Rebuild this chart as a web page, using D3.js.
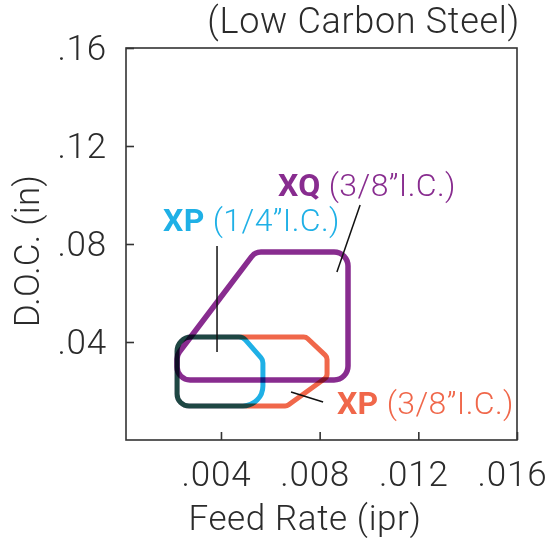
<!DOCTYPE html>
<html>
<head>
<meta charset="utf-8">
<script src="https://cdn.jsdelivr.net/npm/d3@7"></script>
<style>
  body { margin: 0; background: #fff; }
  text { font-family: Roboto, "Liberation Sans", Arial, sans-serif; font-weight: 300; fill: #2b2b2b; }
</style>
</head>
<body>
<script>
// axes
var xTicks = [0.004, 0.008, 0.012, 0.016];
var xTickLabels = [".004", ".008", ".012", ".016"];
var yTicks = [0.04, 0.08, 0.12, 0.16];
var yTickLabels = [".04", ".08", ".12", ".16"];

// operating regions: feed rate (ipr), depth of cut (in), corner radius (px)
var xqFeed = [0.00538, 0.00915, 0.00915, 0.00222, 0.00222];
var xqDoc = [0.0767, 0.0767, 0.0245, 0.0245, 0.0347];
var xqRound = [12, 14, 14, 13, 12];

var xp14Feed = [0.00222, 0.00489, 0.0057, 0.0057, 0.00222];
var xp14Doc = [0.042, 0.042, 0.0327, 0.0139, 0.0139];
var xp14Round = [14, 9, 8, 20, 12];

var xp38Feed = [0.00222, 0.00745, 0.0083, 0.0083, 0.00668, 0.00222];
var xp38Doc = [0.042, 0.042, 0.0339, 0.0257, 0.0139, 0.0139];
var xp38Round = [14, 6, 6, 6, 6, 12];

// labels and leader lines
var labelNames = ["XQ", "XP", "XP"];
var labelSizes = ["(3/8\u201dI.C.)", "(1/4\u201dI.C.)", "(3/8\u201dI.C.)"];
var labelFeed = [0.00631, 0.00165, 0.0087];
var labelDoc = [0.0996, 0.0853, 0.0106];
var leaderFeed = [[0.00964, 0.0087], [0.00384, 0.00384], [0.00684, 0.00814]];
var leaderDoc = [[0.0959, 0.0686], [0.0792, 0.0359], [0.0196, 0.0155]];
var colors = ["#882c8f", "#1fb0e6", "#f0674a"];

var width = 550, height = 544;
var margin = { top: 48, right: 33, bottom: 104, left: 126 };

var svg = d3.select("body").append("svg")
    .attr("width", width)
    .attr("height", height);

var x = d3.scaleLinear()
    .domain([0.00015, 0.016])
    .range([margin.left, width - margin.right]);
var y = d3.scaleLinear()
    .domain([0, 0.16])
    .range([height - margin.bottom, margin.top]);

// frame
svg.append("rect")
    .attr("x", x.range()[0])
    .attr("y", y.range()[1])
    .attr("width", x.range()[1] - x.range()[0])
    .attr("height", y.range()[0] - y.range()[1])
    .attr("fill", "none")
    .attr("stroke", "#333")
    .attr("stroke-width", 1.6);

var xAxis = svg.append("g")
    .attr("transform", "translate(0," + y.range()[0] + ")")
    .call(d3.axisBottom(x)
        .tickValues(xTicks)
        .tickFormat(function (d, i) { return xTickLabels[i]; })
        .tickSize(-8)
        .tickPadding(21));
var yAxis = svg.append("g")
    .attr("transform", "translate(" + x.range()[0] + ",0)")
    .call(d3.axisLeft(y)
        .tickValues(yTicks)
        .tickFormat(function (d, i) { return yTickLabels[i]; })
        .tickSize(-8)
        .tickPadding(19));

[xAxis, yAxis].forEach(function (g) {
    g.select(".domain").remove();
    g.selectAll("line").attr("stroke", "#333").attr("stroke-width", 1.6);
    g.selectAll("text")
        .attr("fill", "#2b2b2b")
        .attr("font-family", null)
        .attr("font-size", null)
        .style("font-size", "35px")
        .style("letter-spacing", "0.8px");
});
// the period sits left of the tick in the original
xAxis.selectAll("text").attr("dx", -5);

// axis titles
svg.append("text")
    .attr("x", 305)
    .attr("y", 530)
    .attr("text-anchor", "middle")
    .style("font-size", "35px")
    .style("letter-spacing", "0.6px")
    .text("Feed Rate (ipr)");

svg.append("text")
    .attr("transform", "translate(39,251)rotate(-90)")
    .attr("text-anchor", "middle")
    .style("font-size", "35px")
    .style("letter-spacing", "0.3px")
    .text("D.O.C. (in)");

svg.append("text")
    .attr("x", 520)
    .attr("y", 33)
    .attr("text-anchor", "end")
    .style("font-size", "36px")
    .style("letter-spacing", "0.7px")
    .text("(Low Carbon Steel)");

// rounded polygon through scaled vertices
function roundedShape(feed, doc, radii) {
    var pts = feed.map(function (f, i) { return [x(f), y(doc[i])]; });
    var n = pts.length;
    var p = d3.path();
    var last = pts[n - 1], first = pts[0];
    p.moveTo((last[0] + first[0]) / 2, (last[1] + first[1]) / 2);
    for (var i = 0; i < n; i++) {
        var cur = pts[i], next = pts[(i + 1) % n];
        p.arcTo(cur[0], cur[1], next[0], next[1], radii[i]);
    }
    p.closePath();
    return p.toString();
}

var regions = [
    { feed: xp38Feed, doc: xp38Doc, r: xp38Round, color: colors[2], w: 5 },
    { feed: xp14Feed, doc: xp14Doc, r: xp14Round, color: colors[1], w: 5 },
    { feed: xqFeed, doc: xqDoc, r: xqRound, color: colors[0], w: 5.5 }
];

svg.append("g").selectAll("path")
    .data(regions)
    .enter()
    .append("path")
    .attr("d", function (d) { return roundedShape(d.feed, d.doc, d.r); })
    .attr("fill", "none")
    .attr("stroke", function (d) { return d.color; })
    .attr("stroke-width", function (d) { return d.w; })
    .style("mix-blend-mode", "multiply");

// leader lines
svg.append("g").selectAll("line")
    .data(leaderFeed)
    .enter()
    .append("line")
    .attr("x1", function (d) { return x(d[0]); })
    .attr("x2", function (d) { return x(d[1]); })
    .attr("y1", function (d, i) { return y(leaderDoc[i][0]); })
    .attr("y2", function (d, i) { return y(leaderDoc[i][1]); })
    .attr("stroke", "#111")
    .attr("stroke-width", 1.5);

// labels
var labels = svg.append("g").selectAll("text")
    .data(labelNames)
    .enter()
    .append("text")
    .attr("x", function (d, i) { return x(labelFeed[i]); })
    .attr("y", function (d, i) { return y(labelDoc[i]); })
    .style("font-size", "32px")
    .style("letter-spacing", "0.4px")
    .style("fill", function (d, i) { return colors[i]; });
labels.append("tspan")
    .style("font-weight", "bold")
    .text(function (d) { return d; });
labels.append("tspan")
    .attr("dx", 8)
    .text(function (d, i) { return labelSizes[i]; });
</script>
</body>
</html>
